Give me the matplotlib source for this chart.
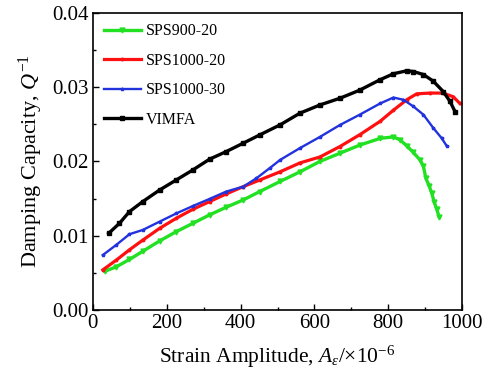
import numpy as np
import matplotlib.pyplot as plt

plt.rcParams['font.family'] = ['Liberation Serif', 'DejaVu Serif']
plt.rcParams['mathtext.fontset'] = 'custom'
plt.rcParams['mathtext.rm'] = 'Liberation Serif'
plt.rcParams['mathtext.it'] = 'Liberation Serif:italic'

# data (strain amplitude x1e-6, damping capacity)
x_sps900 = [32, 63, 99, 135, 181, 226, 271, 316, 361, 407, 452, 507, 561, 615, 669, 723, 778, 814, 832,
            850, 868, 886, 895, 902, 911, 918, 924, 931, 938]
y_sps900 = [0.0052, 0.0058, 0.0068, 0.0079, 0.0093, 0.01055, 0.01167, 0.0128, 0.01383, 0.01481, 0.01594,
            0.0173, 0.0186, 0.0200, 0.0211, 0.0222, 0.0231, 0.0233, 0.0229, 0.0221, 0.0212, 0.0202,
            0.0194, 0.0177, 0.0167, 0.0157, 0.0146, 0.0136, 0.0125]

x_sps1000_20 = [27, 63, 99, 135, 181, 226, 271, 316, 361, 407, 452, 507, 561, 615, 669, 723, 778, 814,
                850, 877, 913, 949, 976, 994]
y_sps1000_20 = [0.0054, 0.0067, 0.0081, 0.0094, 0.0110, 0.01235, 0.01356, 0.01459, 0.01562, 0.0166,
                0.0175, 0.0186, 0.0198, 0.0206, 0.0220, 0.0236, 0.0254, 0.0269, 0.0283, 0.0291, 0.0292,
                0.0292, 0.0287, 0.0278]

x_sps1000_30 = [27, 63, 99, 135, 181, 226, 271, 316, 361, 407, 443, 479, 507, 561, 615, 669, 723, 778,
                814, 841, 868, 895, 922, 945, 958]
y_sps1000_30 = [0.0074, 0.00875, 0.0102, 0.01077, 0.0119, 0.0130, 0.0140, 0.01495, 0.01594, 0.0166,
                0.01773, 0.0191, 0.0202, 0.0218, 0.0233, 0.0249, 0.0263, 0.0278, 0.0286, 0.0283, 0.0274,
                0.0263, 0.0245, 0.0231, 0.0221]

x_vimfa = [43, 72, 99, 135, 181, 226, 271, 316, 361, 407, 452, 507, 561, 615, 669, 723, 778, 814, 850,
           868, 895, 922, 949, 967, 981]
y_vimfa = [0.01033, 0.01167, 0.01324, 0.01459, 0.01616, 0.01751, 0.01886, 0.0203, 0.02132, 0.02245,
           0.02357, 0.02492, 0.0265, 0.0276, 0.0285, 0.0296, 0.0310, 0.0318, 0.0322, 0.0321, 0.0317,
           0.0308, 0.0294, 0.0281, 0.0267]

fig = plt.figure(figsize=(4.89, 3.78), dpi=100)
ax = fig.add_axes([0.190, 0.180, 0.755, 0.786])

ax.plot(x_sps900, y_sps900, color='#22e022', lw=2.4, marker='v', ms=3.5, label='SPS900-20')
ax.plot(x_sps1000_20, y_sps1000_20, color='#ff1010', lw=2.3, marker='o', ms=1.8, label='SPS1000-20')
ax.plot(x_sps1000_30, y_sps1000_30, color='#2233dd', lw=1.7, marker='*', ms=2.5, label='SPS1000-30')
ax.plot(x_vimfa, y_vimfa, color='black', lw=2.4, marker='s', ms=2.2, label='VIMFA')

ax.set_xlim(0, 1000)
ax.set_ylim(0, 0.04)
ax.set_xticks([0, 200, 400, 600, 800, 1000])
ax.set_xticks(np.arange(100, 1000, 200), minor=True)
ax.set_yticks([0, 0.01, 0.02, 0.03, 0.04])
ax.set_yticks(np.arange(0.005, 0.04, 0.01), minor=True)
ax.set_yticklabels(['0.00', '0.01', '0.02', '0.03', '0.04'])
ax.tick_params(direction='in', labelsize=15, length=4, width=1, pad=3)
ax.tick_params(which='minor', direction='in', length=2.5, width=1)
for s in ax.spines.values():
    s.set_linewidth(1.2)

ax.set_xlabel('Strain Amplitude, $A_{\\varepsilon}$/×10$^{-6}$', fontsize=15.5, labelpad=8)
ax.set_ylabel('Damping Capacity, $Q^{-1}$', fontsize=16, labelpad=5)

leg = ax.legend(loc='upper left', bbox_to_anchor=(0.03, 0.965), frameon=False, fontsize=11.5,
                handlelength=2.3, labelspacing=0.85, handletextpad=0.3, borderpad=0, borderaxespad=0)

plt.savefig('out.png', dpi=100)
